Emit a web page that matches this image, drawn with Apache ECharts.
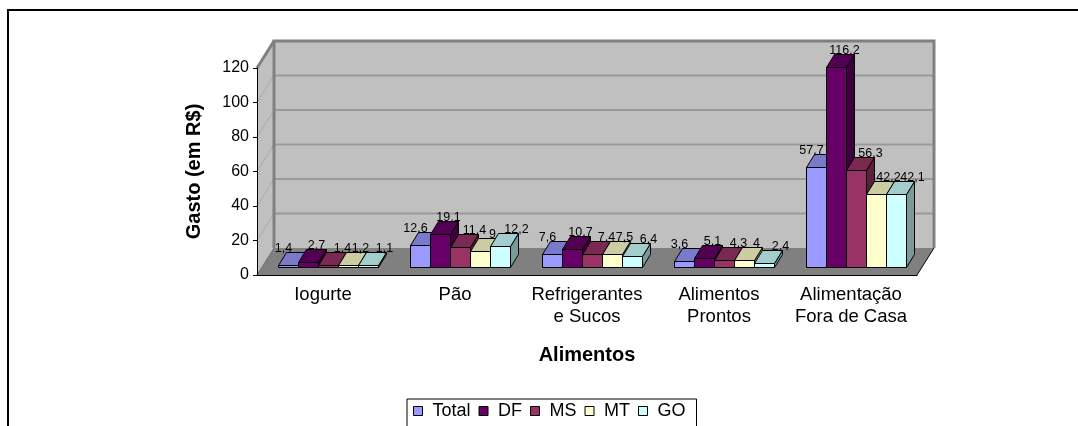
<!DOCTYPE html>
<html>
<head>
<meta charset="utf-8">
<script src="https://cdn.jsdelivr.net/npm/echarts@6/dist/echarts.min.js"></script>
<style>
    html, body { margin: 0; padding: 0; background: #fff; }
    #chart { width: 1078px; height: 426px; }
</style>
</head>
<body>
<div id="chart"></div>
<script>
// 数据
const categories = ['Iogurte', 'Pão', 'Refrigerantes\ne Sucos', 'Alimentos\nProntos', 'Alimentação\nFora de Casa'];
const seriesNames = ['Total', 'DF', 'MS', 'MT', 'GO'];
const total = [1.4, 12.6, 7.6, 3.6, 57.7];
const df = [2.7, 19.1, 10.7, 5.1, 116.2];
const ms = [1.4, 11.4, 7.4, 4.3, 56.3];
const mt = [1.2, 9, 7.5, 4, 42.2];
const go = [1.1, 12.2, 6.4, 2.4, 42.1];
const yTicks = [0, 20, 40, 60, 80, 100, 120];

// 样式
const FONT = 'Liberation Sans, Arial, sans-serif';
const colors = ['#9999ff', '#660066', '#993366', '#ffffcc', '#ccffff'];
const labelDx = [-5, 8, 14, 12, 16];
const DEPTH_X = 17, DEPTH_Y = -27;   // 墙体深度
const BAR_DX = 5, BAR_DY = -8;       // 柱子前表面偏移
const BAR_TX = 8, BAR_TY = -13;      // 柱子厚度
const BAR_FRAC = 20 / 132;

function shade(hex, f) {
    const n = parseInt(hex.slice(1), 16);
    const r = Math.round(((n >> 16) & 255) * f);
    const g = Math.round(((n >> 8) & 255) * f);
    const b = Math.round((n & 255) * f);
    return 'rgb(' + r + ',' + g + ',' + b + ')';
}

document.addEventListener('DOMContentLoaded', function () {
    const myChart = echarts.init(document.getElementById('chart'));
    const allValues = [total, df, ms, mt, go];

    // 三维背景墙和地面
    function renderWalls(params, api) {
        const cs = params.coordSys;
        const x = cs.x, w = cs.width;
        const y0 = api.coord([0, yTicks[0]])[1];
        const yTop = api.coord([0, yTicks[yTicks.length - 1]])[1];
        const children = [];
        // 左墙
        children.push({
            type: 'polygon',
            shape: { points: [[x, y0], [x, yTop], [x + DEPTH_X, yTop + DEPTH_Y], [x + DEPTH_X, y0 + DEPTH_Y]] },
            style: { fill: '#c0c0c0', stroke: null }
        });
        // 后墙
        children.push({
            type: 'rect',
            shape: { x: x + DEPTH_X, y: yTop + DEPTH_Y, width: w, height: y0 - yTop },
            style: { fill: '#c0c0c0' }
        });
        // 网格线
        yTicks.forEach(function (v) {
            if (v === yTicks[0]) return;
            const yy = api.coord([0, v])[1];
            children.push({
                type: 'line',
                shape: { x1: x, y1: yy, x2: x + DEPTH_X, y2: yy + DEPTH_Y },
                style: { stroke: '#a8a8a8', lineWidth: 1 }
            });
            if (v !== yTicks[yTicks.length - 1]) {
                children.push({
                    type: 'line',
                    shape: { x1: x + DEPTH_X, y1: yy + DEPTH_Y, x2: x + DEPTH_X + w, y2: yy + DEPTH_Y },
                    style: { stroke: '#999999', lineWidth: 2 }
                });
            }
        });
        // 后墙边框
        children.push({
            type: 'polyline',
            shape: { points: [[x + DEPTH_X, y0 + DEPTH_Y], [x + DEPTH_X, yTop + DEPTH_Y], [x + DEPTH_X + w, yTop + DEPTH_Y], [x + DEPTH_X + w, y0 + DEPTH_Y]] },
            style: { stroke: '#808080', lineWidth: 3, fill: null }
        });
        children.push({
            type: 'line',
            shape: { x1: x, y1: yTop, x2: x + DEPTH_X, y2: yTop + DEPTH_Y },
            style: { stroke: '#808080', lineWidth: 3 }
        });
        // 地面
        children.push({
            type: 'polygon',
            shape: { points: [[x, y0], [x + w, y0], [x + w + DEPTH_X, y0 + DEPTH_Y], [x + DEPTH_X, y0 + DEPTH_Y]] },
            style: { fill: '#808080', stroke: null }
        });
        children.push({
            type: 'line',
            shape: { x1: x + w, y1: y0, x2: x + w + DEPTH_X, y2: y0 + DEPTH_Y },
            style: { stroke: '#000', lineWidth: 1 }
        });
        children.push({
            type: 'line',
            shape: { x1: x, y1: y0, x2: x + DEPTH_X, y2: y0 + DEPTH_Y },
            style: { stroke: '#707070', lineWidth: 1 }
        });
        return { type: 'group', children: children };
    }

    // 三维柱子
    function makeBarRenderer(s) {
        return function (params, api) {
            const ci = api.value(0), v = api.value(1);
            const top = api.coord([ci, v]);
            const base = api.coord([ci, 0]);
            const band = api.size([1, 0])[0];
            const bw = Math.round(band * BAR_FRAC);
            const x0 = Math.round(base[0] - 2.5 * bw + s * bw + BAR_DX) + 0.5;
            const yb = Math.round(base[1] + BAR_DY) + 0.5;
            const yt = Math.round(top[1] + BAR_DY) + 0.5;
            const c = colors[s];
            const line = { stroke: '#000', lineWidth: 1 };
            return {
                type: 'group',
                children: [
                    {
                        type: 'polygon',
                        shape: { points: [[x0 + bw, yt], [x0 + bw + BAR_TX, yt + BAR_TY], [x0 + bw + BAR_TX, yb + BAR_TY], [x0 + bw, yb]] },
                        style: Object.assign({ fill: shade(c, 0.6) }, line)
                    },
                    {
                        type: 'polygon',
                        shape: { points: [[x0, yt], [x0 + bw, yt], [x0 + bw + BAR_TX, yt + BAR_TY], [x0 + BAR_TX, yt + BAR_TY]] },
                        style: Object.assign({ fill: shade(c, 0.8) }, line)
                    },
                    {
                        type: 'rect',
                        shape: { x: x0, y: yt, width: bw, height: yb - yt },
                        style: Object.assign({ fill: c }, line)
                    },
                    {
                        type: 'text',
                        z2: 100,
                        style: {
                            text: String(v).replace('.', ','),
                            x: x0 + bw / 2 + labelDx[s],
                            y: yt - 17,
                            align: 'center',
                            verticalAlign: 'middle',
                            fill: '#000',
                            fontSize: 12.5,
                            fontFamily: FONT
                        }
                    }
                ]
            };
        };
    }

    const series = [{
        name: 'walls',
        type: 'custom',
        silent: true,
        clip: false,
        z: 1,
        renderItem: renderWalls,
        data: [[0, 0]]
    }];
    seriesNames.forEach(function (name, s) {
        series.push({
            name: name,
            type: 'custom',
            clip: false,
            z: 2,
            itemStyle: { color: colors[s] },
            renderItem: makeBarRenderer(s),
            data: allValues[s].map(function (v, i) { return [i, v]; })
        });
    });

    const option = {
        animation: false,
        backgroundColor: '#fff',
        textStyle: { fontFamily: FONT },
        grid: { left: 257, right: 161, top: 68, bottom: 151 },
        graphic: [{
            type: 'rect',
            shape: { x: 8, y: 10, width: 1200, height: 600 },
            style: { fill: null, stroke: '#000', lineWidth: 2 },
            z: 0
        }],
        legend: {
            data: seriesNames,
            left: 407,
            top: 399,
            icon: 'rect',
            itemWidth: 9,
            itemHeight: 9,
            itemGap: 8,
            padding: [3, 11, 12, 6],
            borderColor: '#000',
            borderWidth: 1,
            itemStyle: { borderColor: '#000', borderWidth: 1 },
            textStyle: { fontSize: 18, color: '#000', fontFamily: FONT, padding: [0, 0, 0, 5] }
        },
        xAxis: {
            type: 'category',
            data: categories,
            z: 10,
            name: 'Alimentos',
            nameLocation: 'middle',
            nameGap: 70,
            nameTextStyle: { fontSize: 20, fontWeight: 'bold', color: '#000', fontFamily: FONT },
            axisLine: { lineStyle: { color: '#000', width: 1 } },
            axisTick: { length: 5, lineStyle: { color: '#000' } },
            axisLabel: { fontSize: 18.5, lineHeight: 22, margin: 9, interval: 0, color: '#000', fontFamily: FONT }
        },
        yAxis: {
            type: 'value',
            min: yTicks[0],
            max: yTicks[yTicks.length - 1],
            interval: 20,
            z: 10,
            name: 'Gasto (em R$)',
            nameLocation: 'middle',
            nameRotate: 90,
            nameGap: 53,
            nameTextStyle: { fontSize: 20, fontWeight: 'bold', color: '#000', fontFamily: FONT },
            axisLine: { show: true, lineStyle: { color: '#000', width: 1 } },
            axisTick: { show: true, length: 4, lineStyle: { color: '#000' } },
            axisLabel: { fontSize: 16, color: '#000', margin: 8, fontFamily: FONT },
            splitLine: { show: false }
        },
        series: series
    };

    myChart.setOption(option);
});
</script>
</body>
</html>
